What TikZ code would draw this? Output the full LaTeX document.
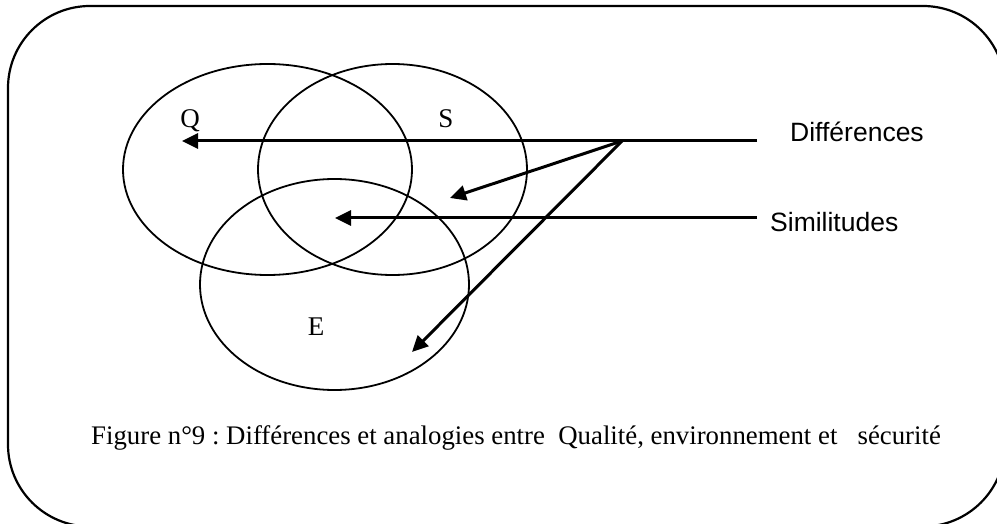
\documentclass[tikz,border=0pt]{standalone}
\usepackage{fontspec}
\setmainfont{Liberation Serif}
\setsansfont{Liberation Sans}
\usetikzlibrary{arrows.meta,shapes.geometric}
\frenchspacing

\tikzset{
	setring/.style={ellipse, draw, line width=1.8pt, inner sep=0pt,
		minimum width=269pt, minimum height=211pt},
	arrowline/.style={line width=3pt, -{Triangle[length=16pt,width=15pt]}},
	setlabel/.style={anchor=base, inner sep=0pt, font=\fontsize{27}{30}\selectfont},
	sidetext/.style={anchor=base west, inner sep=0pt, font=\sffamily\fontsize{26.5}{30}\selectfont},
}

\begin{document}
\begin{tikzpicture}[x=1pt, y=-1pt]
		\useasboundingbox (0,0) rectangle (997,524);
		\draw[line width=2.2pt, rounded corners=82pt] (8,6) rectangle (1005,526.5);

		% the three sets
		\node[setring, minimum width=289pt] (setQ) at (267.5,169.5) {};
		\node[setring] (setS) at (392.5,169.5) {};
		\node[setring] (setE) at (334.5,284.5) {};
		\node[setlabel] (labQ) at (190,128) {Q};
		\node[setlabel] (labS) at (446,128) {S};
		\node[setlabel] (labE) at (316,335) {E};

		% legend
		\node[sidetext] (diff) at (790,141.7) {Différences};
		\node[sidetext] (simil) at (770,231.7) {Similitudes};
		\coordinate (diffstart) at (757,141);
		\coordinate (similstart) at (757,218);
		\coordinate (split) at (622,141);
		\coordinate (tipQ) at (182,141);
		\coordinate (tipS) at (450,198);
		\coordinate (tipE) at (412,352);
		\coordinate (tipQSE) at (335,218);

		\draw[arrowline] (diffstart) -- (tipQ);
		\draw[arrowline] (split) -- (tipS);
		\draw[arrowline] (split) -- (tipE);
		\draw[arrowline] (similstart) -- (tipQSE);

		\node[anchor=base west, inner sep=0pt, font=\fontsize{26.8}{30}\selectfont] (caption) at (91,444)
			{Figure n°9 : Différences et analogies entre\ \ Qualité, environnement et\ \ \ sécurité};
	\end{tikzpicture}
\end{document}
